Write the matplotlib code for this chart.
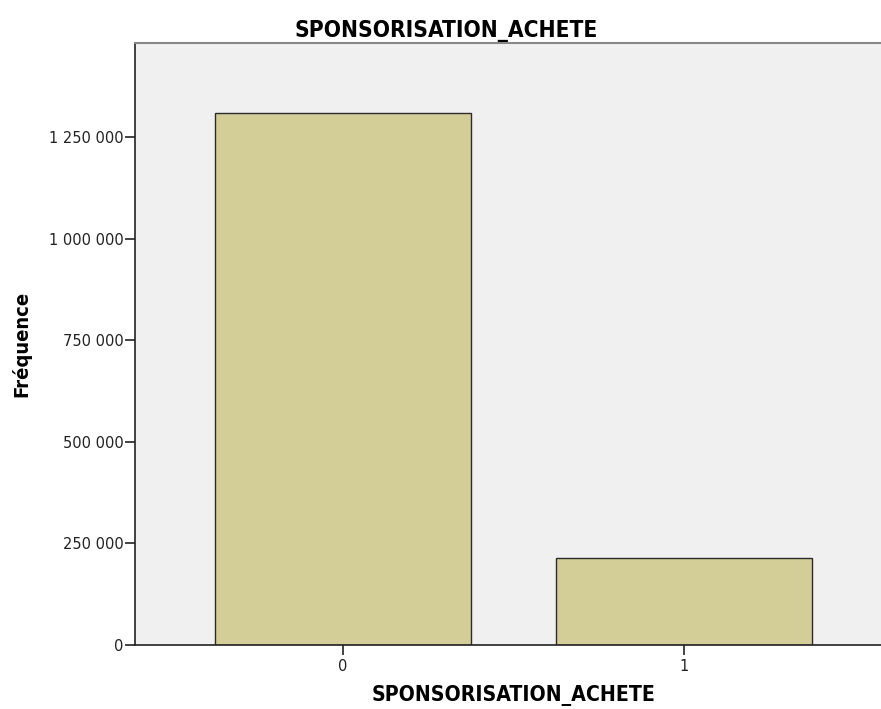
import numpy as np
from matplotlib import pyplot as plt
from matplotlib.ticker import FuncFormatter

categories = ["0", "1"]
counts = [1309000, 214000]
yticks = [0, 250000, 500000, 750000, 1000000, 1250000]

fig = plt.figure(figsize=(8.81, 7.09), dpi=100)
ax = fig.add_axes([0.1532, 0.0903, 0.860, 0.849])
ax.set_facecolor("#f0f0f0")

x = np.arange(len(categories))
ax.bar(x, counts, width=0.75, color="#d3ce97", edgecolor="#2b2b2b", linewidth=1.0, zorder=2)

ax.set_xlim(-0.61, 1.61)
ax.set_ylim(0, 1481000)
ax.set_xticks(x)
ax.set_xticklabels(categories)
ax.set_yticks(yticks)
ax.yaxis.set_major_formatter(FuncFormatter(lambda v, p: "{:,}".format(int(v)).replace(",", " ")))
ax.tick_params(axis="both", direction="out", length=7, width=1.2, labelsize=10.5,
               colors="#222222", pad=1)
ax.tick_params(axis="x", pad=3)

for s in ["left", "bottom"]:
    ax.spines[s].set_color("#222222")
    ax.spines[s].set_linewidth(1.2)
ax.spines["top"].set_color("#888888")
ax.spines["top"].set_linewidth(1.5)
ax.spines["right"].set_visible(False)

ax.set_xlabel("SPONSORISATION_ACHETE", fontsize=15.2, fontweight="bold",
              fontstretch="condensed", labelpad=8)
ax.set_ylabel("Fréquence", fontsize=14.5, fontweight="bold", fontstretch="condensed", labelpad=13)
fig.text(0.506, 0.957, "SPONSORISATION_ACHETE", fontsize=16.3, fontweight="bold",
         fontstretch="condensed", ha="center", va="center")

fig.savefig("out.png", dpi=100)
